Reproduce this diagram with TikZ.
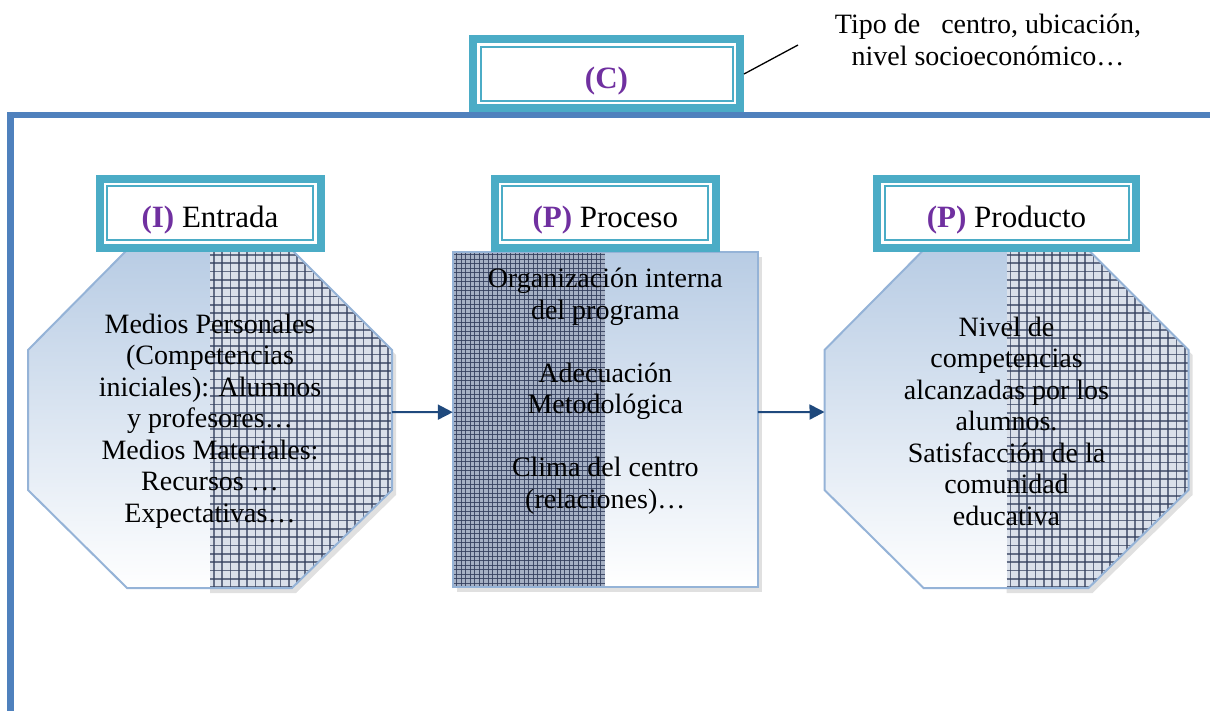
\documentclass[tikz,border=0pt]{standalone}
\usepackage{fontspec}
\setmainfont{Liberation Serif}
\usetikzlibrary{arrows.meta,positioning,backgrounds}

\definecolor{frameblue}{RGB}{79,129,189}
\definecolor{boxteal}{RGB}{75,172,198}
\definecolor{cpurple}{RGB}{112,48,160}
\definecolor{edgeblue}{RGB}{149,179,215}
\definecolor{topblue}{RGB}{184,204,228}
\definecolor{arrownavy}{RGB}{31,73,125}
\definecolor{gridnavy}{RGB}{50,62,92}
\definecolor{gridback}{RGB}{218,224,234}
\definecolor{patback}{RGB}{165,176,196}

\newcommand\bodyfont{\fontsize{28}{31.5}\selectfont}
\newcommand\octpath{(-83,-169) -- (82,-169) -- (182,-69) -- (182,71) -- (82,169) -- (-83,169) -- (-182,71) -- (-182,-69) -- cycle}

% left half shaded, right half checked
\newcommand\octfill{%
  \begin{scope}
    \clip (0,-180) rectangle (195,180);
    \fill[black, opacity=0.12, shift={(4,5)}] \octpath;
  \end{scope}
  \begin{scope}
    \clip \octpath;
    \shade[top color=topblue, bottom color=white] (-185,-172) rectangle (0,172);
    \fill[gridback] (0,-172) rectangle (185,172);
    \foreach \g in {4,12.3,...,185} {\draw[gridline] (\g,-172) -- (\g,172);}
    \foreach \g in {-164,-155.7,...,172} {\draw[gridline] (0,\g) -- (185,\g);}
  \end{scope}
  \draw[octedge] \octpath;}

\begin{document}
\begin{tikzpicture}[x=1pt, y=-1pt,
   frameline/.style={draw=frameblue, line width=6.5pt},
   titlebox/.style={rectangle, inner sep=0pt, outer sep=11.5pt, minimum height=54pt,
      fill=white, draw=boxteal, line width=2pt,
      preaction={draw=boxteal, line width=23pt},
      preaction={draw=white, line width=7pt},
      text height=29pt, text depth=0pt,
      font=\fontsize{31}{36}\selectfont},
   octnode/.style={rectangle, minimum width=364pt, minimum height=338pt,
      inner sep=0pt, outer sep=0pt, align=center, font=\bodyfont},
   octedge/.style={draw=edgeblue, line width=2pt},
   gridline/.style={draw=gridnavy, line width=1.7pt, opacity=0.7},
   patline/.style={draw=gridnavy, line width=0.9pt, opacity=0.85},
   flow/.style={draw=arrownavy, line width=2pt, -{Triangle[length=15pt, width=15pt]}}]

\useasboundingbox (0,0) rectangle (1210,711);

\draw[frameline] (10.5,720) -- (10.5,115) -- (1220,115);

\node[titlebox, minimum width=252pt] (cbox) at (606.5,74) {\textcolor{cpurple}{\textbf{(C)}}};
\node[align=center, font=\bodyfont] (tipo) at (988,40) {Tipo de\ \ \ centro, ubicación,\\nivel socioeconómico…};
\coordinate (callout) at (798,45);
\draw[black, line width=1.3pt] (cbox.east) -- (callout);

% the three blocks
\node[octnode] (entrada) at (210,421) {Medios Personales\\(Competencias\\iniciales): Alumnos\\y profesores…\\Medios Materiales:\\Recursos …\\Expectativas…};
\node[rectangle, minimum width=305pt, minimum height=335pt, inner sep=0pt, outer sep=0pt] (proceso) at (605.3,419.2) {};
\node[align=center, font=\bodyfont, below=13pt of proceso.north] (procesotxt) {Organización interna\\del programa\\[31.5pt]Adecuación\\Metodológica\\[31.5pt]Clima del centro\\(relaciones)…};
\node[octnode] (producto) at (1006.5,421) {Nivel de\\competencias\\alcanzadas por los\\alumnos.\\Satisfacción de la\\comunidad\\educativa};

\begin{scope}[on background layer]
  \begin{scope}[shift={(210,419)}]
    \octfill
  \end{scope}
  \begin{scope}[shift={(1006.5,419)}]
    \octfill
  \end{scope}
  \fill[black, opacity=0.12] ([shift={(4,5)}]proceso.north west) rectangle ([shift={(4,5)}]proceso.south east);
  \begin{scope}
    \clip (proceso.north west) rectangle (proceso.south);
    \fill[patback] (proceso.north west) rectangle (proceso.south);
    \foreach \g in {452,456.5,...,608} {\draw[patline] (\g,250) -- (\g,590);}
    \foreach \g in {250,254.5,...,590} {\draw[patline] (450,\g) -- (610,\g);}
  \end{scope}
  \shade[top color=topblue, bottom color=white] (proceso.north) rectangle (proceso.south east);
  \draw[octedge] (proceso.north west) rectangle (proceso.south east);
\end{scope}

% titles
\node[titlebox, minimum width=206pt, above=0pt of entrada] (entradat) {\textcolor{cpurple}{\textbf{(I)}} Entrada};
\node[titlebox, minimum width=206pt, above=0pt of proceso] (procesot) {\textcolor{cpurple}{\textbf{(P)}} Proceso};
\node[titlebox, minimum width=244pt, above=0pt of producto] (productot) {\textcolor{cpurple}{\textbf{(P)}} Producto};

\draw[flow] ([yshift=9pt]entrada.east) -- ([yshift=7pt]proceso.west);
\draw[flow] ([yshift=7pt]proceso.east) -- ([yshift=9pt]producto.west);

\end{tikzpicture}
\end{document}
